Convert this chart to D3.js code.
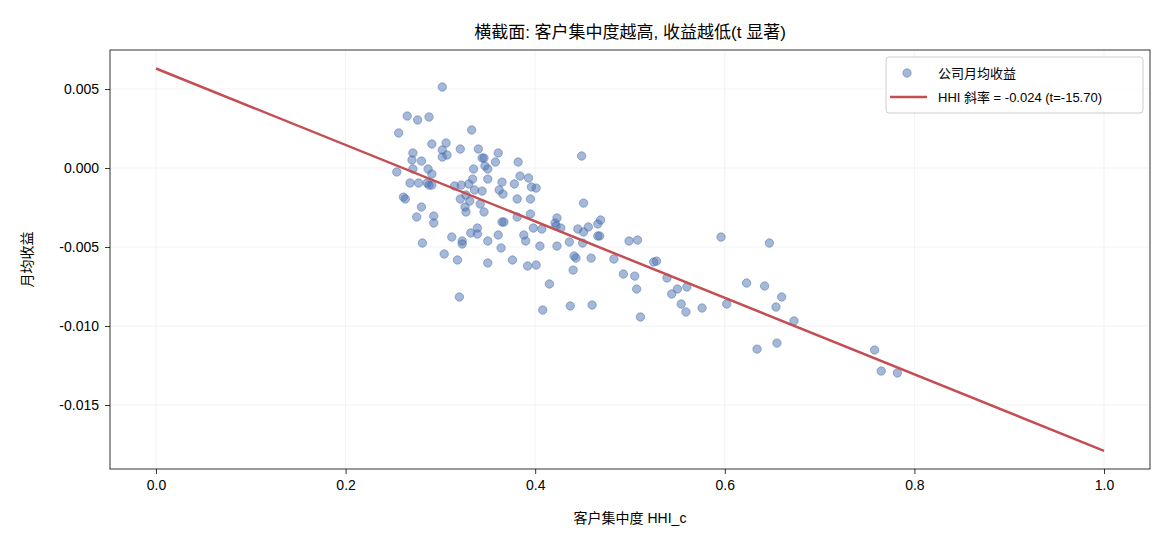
<!DOCTYPE html>
<html>
<head>
<meta charset="utf-8">
<script src="https://cdn.jsdelivr.net/npm/d3@7"></script>
<style>
  body { margin: 0; background: #fff; }
  text { font-family: "Liberation Sans", Arial, "Noto Sans CJK SC", sans-serif; }
</style>
</head>
<body>
<script>
// HHI (x) values of each firm
var hhi = [0.265,0.276,0.288,0.256,0.302,0.333,0.291,0.306,0.271,0.270,0.280,0.302,0.302,0.307,0.321,0.340,0.361,0.344,0.346,0.358,
  0.382,0.347,0.350,0.335,0.271,0.254,0.287,0.291,0.334,0.350,0.365,0.384,0.268,0.277,0.286,0.288,0.291,0.315,0.322,0.330,
  0.336,0.344,0.362,0.378,0.366,0.381,0.261,0.263,0.321,0.327,0.331,0.342,0.280,0.326,0.275,0.293,0.293,0.327,0.346,0.365,
  0.367,0.381,0.281,0.312,0.323,0.323,0.332,0.339,0.339,0.350,0.361,0.364,0.304,0.318,0.350,0.376,0.320,0.449,0.393,0.396,
  0.401,0.395,0.451,0.395,0.423,0.421,0.398,0.407,0.422,0.427,0.445,0.456,0.451,0.466,0.469,0.466,0.468,0.388,0.390,0.436,
  0.450,0.405,0.423,0.499,0.508,0.392,0.401,0.441,0.443,0.459,0.483,0.440,0.415,0.493,0.505,0.507,0.408,0.437,0.460,0.511,
  0.596,0.647,0.525,0.528,0.539,0.550,0.544,0.560,0.554,0.559,0.576,0.602,0.623,0.642,0.660,0.654,0.673,0.634,0.655,0.758,
  0.765,0.782];
// monthly return (y) of each firm
var ret = [0.00329,0.00304,0.00323,0.00222,0.00513,0.00241,0.00152,0.00158,0.00095,0.00051,0.00044,0.00114,0.00070,0.00082,0.00120,0.00120,0.00095,0.00063,0.00063,0.00038,
  0.00038,0.00013,-0.00006,-0.00006,-0.00006,-0.00025,-0.00006,-0.00038,-0.00070,-0.00070,-0.00089,-0.00051,-0.00095,-0.00095,-0.00095,-0.00108,-0.00108,-0.00114,-0.00108,-0.00101,
  -0.00139,-0.00146,-0.00139,-0.00101,-0.00165,-0.00196,-0.00184,-0.00196,-0.00196,-0.00171,-0.00209,-0.00228,-0.00247,-0.00247,-0.00310,-0.00304,-0.00348,-0.00278,-0.00278,-0.00342,
  -0.00342,-0.00310,-0.00475,-0.00437,-0.00462,-0.00481,-0.00411,-0.00380,-0.00418,-0.00462,-0.00424,-0.00506,-0.00544,-0.00582,-0.00601,-0.00582,-0.00816,0.00076,-0.00063,-0.00120,
  -0.00127,-0.00196,-0.00222,-0.00291,-0.00316,-0.00348,-0.00380,-0.00386,-0.00367,-0.00380,-0.00386,-0.00373,-0.00405,-0.00354,-0.00329,-0.00430,-0.00430,-0.00424,-0.00462,-0.00468,
  -0.00475,-0.00494,-0.00494,-0.00462,-0.00456,-0.00620,-0.00614,-0.00557,-0.00570,-0.00570,-0.00576,-0.00646,-0.00734,-0.00671,-0.00684,-0.00766,-0.00899,-0.00873,-0.00867,-0.00943,
  -0.00437,-0.00475,-0.00595,-0.00589,-0.00696,-0.00766,-0.00797,-0.00753,-0.00861,-0.00911,-0.00886,-0.00861,-0.00728,-0.00747,-0.00816,-0.00880,-0.00968,-0.01146,-0.01108,-0.01152,
  -0.01285,-0.01297];
// fitted line end points
var fitX = [0.0, 1.0];
var fitY = [0.0063, -0.0179];
var xTicks = [0.0, 0.2, 0.4, 0.6, 0.8, 1.0];
var yTicks = [0.005, 0.000, -0.005, -0.010, -0.015];

var width = 1170, height = 546;
var margin = {left: 110, right: 20, top: 50, bottom: 77};

var svg = d3.select("body").append("svg")
  .attr("width", width)
  .attr("height", height);

var x = d3.scaleLinear().domain([-0.0485, 1.0485]).range([margin.left, width - margin.right]);
var y = d3.scaleLinear().domain([-0.01905, 0.00747]).range([height - margin.bottom, margin.top]);

/* grid */
var grid = svg.append("g").attr("stroke", "#b0b0b0").attr("stroke-opacity", 0.2).attr("stroke-width", 0.8);
grid.selectAll(".gx").data(xTicks).enter().append("line")
  .attr("x1", function(d) { return x(d); }).attr("x2", function(d) { return x(d); })
  .attr("y1", margin.top).attr("y2", height - margin.bottom);
grid.selectAll(".gy").data(yTicks).enter().append("line")
  .attr("y1", function(d) { return y(d); }).attr("y2", function(d) { return y(d); })
  .attr("x1", margin.left).attr("x2", width - margin.right);

/* points */
var pts = hhi.map(function(d, i) { return {x: d, y: ret[i]}; });
svg.append("g").selectAll("circle").data(pts).enter().append("circle")
  .attr("cx", function(d) { return x(d.x); })
  .attr("cy", function(d) { return y(d.y); })
  .attr("r", 4.2)
  .attr("fill", "#4c72b0").attr("fill-opacity", 0.5)
  .attr("stroke", "#4c72b0").attr("stroke-opacity", 0.5).attr("stroke-width", 1);

/* fit line */
svg.append("line")
  .attr("x1", x(fitX[0])).attr("y1", y(fitY[0]))
  .attr("x2", x(fitX[1])).attr("y2", y(fitY[1]))
  .attr("stroke", "#c44e52").attr("stroke-width", 2.5);

/* axes */
var xAxis = svg.append("g")
  .attr("transform", "translate(0," + (height - margin.bottom) + ")")
  .call(d3.axisBottom(x).tickValues(xTicks).tickFormat(d3.format(".1f")).tickSizeOuter(0).tickSize(5).tickPadding(6));
var yAxis = svg.append("g")
  .attr("transform", "translate(" + margin.left + ",0)")
  .call(d3.axisLeft(y).tickValues(yTicks).tickFormat(d3.format(".3f")).tickSizeOuter(0).tickSize(5).tickPadding(6));
[xAxis, yAxis].forEach(function(a) {
  a.select(".domain").remove();
  a.selectAll("text").attr("font-size", 14).attr("fill", "#000").style("font-family", "Liberation Sans, Arial, sans-serif");
  a.selectAll("line").attr("stroke", "#000").attr("stroke-width", 0.8);
});
yAxis.selectAll("text").text(function(d) { return d3.format(".3f")(d).replace("−", "-"); });

/* frame */
svg.append("rect")
  .attr("x", margin.left).attr("y", margin.top)
  .attr("width", width - margin.left - margin.right)
  .attr("height", height - margin.top - margin.bottom)
  .attr("fill", "none").attr("stroke", "#000").attr("stroke-width", 0.8);

/* titles */
svg.append("text").attr("x", (margin.left + width - margin.right) / 2).attr("y", 38)
  .attr("text-anchor", "middle").attr("font-size", 17).attr("fill", "#000")
  .text("横截面: 客户集中度越高, 收益越低(t 显著)");
svg.append("text").attr("x", (margin.left + width - margin.right) / 2).attr("y", 523)
  .attr("text-anchor", "middle").attr("font-size", 14).attr("fill", "#000")
  .text("客户集中度 HHI_c");
svg.append("text").attr("transform", "translate(32," + ((margin.top + height - margin.bottom) / 2) + ") rotate(-90)")
  .attr("text-anchor", "middle").attr("font-size", 14).attr("fill", "#000")
  .text("月均收益");

/* legend */
var lg = svg.append("g").attr("transform", "translate(886,57)");
lg.append("rect").attr("width", 257).attr("height", 56).attr("rx", 3)
  .attr("fill", "#fff").attr("fill-opacity", 0.8).attr("stroke", "#ccc").attr("stroke-width", 1);
lg.append("circle").attr("cx", 21).attr("cy", 16).attr("r", 4.2)
  .attr("fill", "#4c72b0").attr("fill-opacity", 0.5).attr("stroke", "#4c72b0").attr("stroke-opacity", 0.5);
lg.append("text").attr("x", 52).attr("y", 21).attr("font-size", 13).attr("fill", "#000").text("公司月均收益");
lg.append("line").attr("x1", 4).attr("x2", 41).attr("y1", 40).attr("y2", 40)
  .attr("stroke", "#c44e52").attr("stroke-width", 2.5);
lg.append("text").attr("x", 52).attr("y", 45).attr("font-size", 13).attr("fill", "#000").text("HHI 斜率 = -0.024 (t=-15.70)");
</script>
</body>
</html>
